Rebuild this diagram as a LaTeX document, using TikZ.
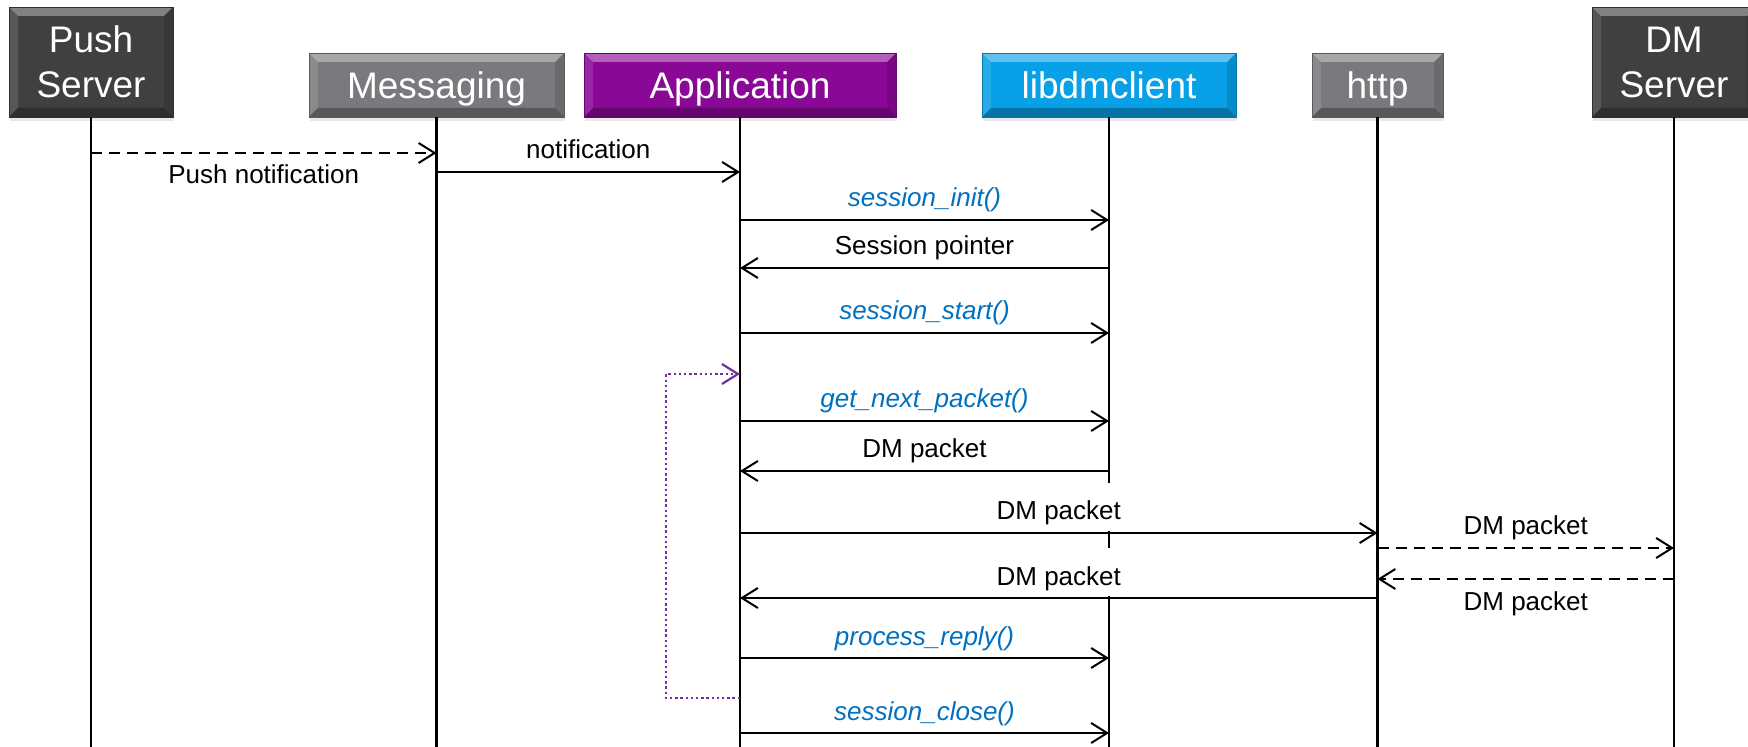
\documentclass[tikz,border=0pt]{standalone}
\usepackage{fontspec}
\setmainfont{Liberation Sans}
\usetikzlibrary{arrows.meta,shadows}
\definecolor{darkbox}{RGB}{64,64,67}
\definecolor{graybox}{RGB}{120,122,125}
\definecolor{purplebox}{RGB}{138,8,150}
\definecolor{bluebox}{RGB}{8,160,230}
\definecolor{fnblue}{RGB}{0,112,192}
\definecolor{loopviolet}{RGB}{112,48,160}
\tikzset{
  bevel/.style={path picture={
    \fill[white,opacity=.35] (path picture bounding box.north west) -- (path picture bounding box.north east)
      -- ([xshift=-4.5pt,yshift=-4.5pt]path picture bounding box.north east)
      -- ([xshift=4.5pt,yshift=-4.5pt]path picture bounding box.north west) -- cycle;
    \fill[white,opacity=.12] (path picture bounding box.north west)
      -- ([xshift=4.5pt,yshift=-4.5pt]path picture bounding box.north west)
      -- ([xshift=4.5pt,yshift=4.5pt]path picture bounding box.south west)
      -- (path picture bounding box.south west) -- cycle;
    \fill[black,opacity=.12] (path picture bounding box.north east)
      -- ([xshift=-4.5pt,yshift=-4.5pt]path picture bounding box.north east)
      -- ([xshift=-4.5pt,yshift=4.5pt]path picture bounding box.south east)
      -- (path picture bounding box.south east) -- cycle;
    \fill[black,opacity=.28] (path picture bounding box.south west) -- (path picture bounding box.south east)
      -- ([xshift=-4.5pt,yshift=4.5pt]path picture bounding box.south east)
      -- ([xshift=4.5pt,yshift=4.5pt]path picture bounding box.south west) -- cycle;
  }},
  actor/.style={bevel, fill=#1, draw=#1!75!black, line width=0.4pt, text=white,
    font=\fontsize{18.5}{22.5}\selectfont, align=center, inner sep=0pt,
    drop shadow={shadow xshift=0.3pt, shadow yshift=-2pt, opacity=.18}},
  oneline/.style={text height=17pt, text depth=3.8pt},
  life/.style={line width=1.1pt, black},
  msg/.style={line width=1pt, black, -{Straight Barb[length=8pt,width=10pt]}},
  amsg/.style={msg, dash pattern=on 5.5pt off 3.5pt},
  loopline/.style={line width=1.4pt, loopviolet, dash pattern=on 1.2pt off 1.4pt,
    -{Straight Barb[length=8pt,width=10pt,line width=1.1pt]}},
  lbl/.style={font=\fontsize{13}{15.6}\selectfont, inner sep=0pt, anchor=base},
  up/.style={lbl, yshift=6.5pt},
  down/.style={lbl, yshift=-15.5pt},
  fn/.style={up, text=fnblue, font=\fontsize{13}{15.6}\selectfont\itshape},
  cover/.style={lbl, fill=white, inner xsep=3pt, text height=18.5pt, text depth=5.5pt}
}
\begin{document}
\begin{tikzpicture}[x=0.5pt,y=-0.5pt]
\useasboundingbox (0,0) rectangle (1748,747);
% actors
\node[actor=darkbox, minimum width=82pt, minimum height=55pt] (push) at (91,62) {Push\\Server};
\node[actor=graybox, oneline, minimum width=127.5pt, minimum height=32pt] (msg) at (436.5,85) {Messaging};
\node[actor=purplebox, oneline, minimum width=156pt, minimum height=32pt] (app) at (740,85) {Application};
\node[actor=bluebox, oneline, minimum width=127pt, minimum height=32pt] (lib) at (1109,85) {libdmclient};
\node[actor=graybox, oneline, minimum width=65.5pt, minimum height=32pt] (http) at (1377.5,85) {http};
\node[actor=darkbox, minimum width=82pt, minimum height=55pt] (dms) at (1674,62) {DM\\Server};
% lifelines
\coordinate (bot) at (0,747);
\draw[life] (push.south) -- (push |- bot);
\draw[life] (msg.south) -- (msg |- bot);
\draw[life] (app.south) -- (app |- bot);
\draw[life] (lib.south) -- (lib |- bot);
\draw[life] (http.south) -- (http |- bot);
\draw[life] (dms.south) -- (dms |- bot);
% message end points
\coordinate (p1) at (91,153);   \coordinate (m1) at (436.5,153);
\coordinate (m2) at (436.5,172); \coordinate (a2) at (740,172);
\coordinate (a3) at (740,220);  \coordinate (l3) at (1109,220);
\coordinate (l4) at (1109,268); \coordinate (a4) at (740,268);
\coordinate (a5) at (740,333);  \coordinate (l5) at (1109,333);
\coordinate (a6) at (740,421);  \coordinate (l6) at (1109,421);
\coordinate (l7) at (1109,471); \coordinate (a7) at (740,471);
\coordinate (a8) at (740,533);  \coordinate (h8) at (1377.5,533);
\coordinate (h9) at (1377.5,548); \coordinate (d9) at (1674,548);
\coordinate (d10) at (1674,579); \coordinate (h10) at (1377.5,579);
\coordinate (h11) at (1377.5,598); \coordinate (a11) at (740,598);
\coordinate (a12) at (740,658); \coordinate (l12) at (1109,658);
\coordinate (a13) at (740,733); \coordinate (l13) at (1109,733);
\coordinate (lpa) at (740,698); \coordinate (lpb) at (740,374); \coordinate (lpx) at (666,0);
% labels that hide the libdmclient lifeline
\node[cover] (t8) at (1058.75,520) {DM packet};
\node[cover] (t11) at (1058.75,585) {DM packet};
% messages
\draw[amsg] (p1) -- node[down] (t1) {Push notification} (m1);
\draw[msg] (m2) -- node[up] (t2) {notification} (a2);
\draw[msg] (a3) -- node[fn] (t3) {session\_init()} (l3);
\draw[msg] (l4) -- node[up] (t4) {Session pointer} (a4);
\draw[msg] (a5) -- node[fn] (t5) {session\_start()} (l5);
\draw[msg] (a6) -- node[fn] (t6) {get\_next\_packet()} (l6);
\draw[msg] (l7) -- node[up] (t7) {DM packet} (a7);
\draw[msg] (a8) -- (h8);
\draw[amsg] (h9) -- node[up] (t9) {DM packet} (d9);
\draw[amsg] (d10) -- node[down] (t10) {DM packet} (h10);
\draw[msg] (h11) -- (a11);
\draw[msg] (a12) -- node[fn] (t12) {process\_reply()} (l12);
\draw[msg] (a13) -- node[fn] (t13) {session\_close()} (l13);
% loop
\draw[loopline] (lpa) -- (lpa -| lpx) -- (lpb -| lpx) -- (lpb);
\end{tikzpicture}
\end{document}
